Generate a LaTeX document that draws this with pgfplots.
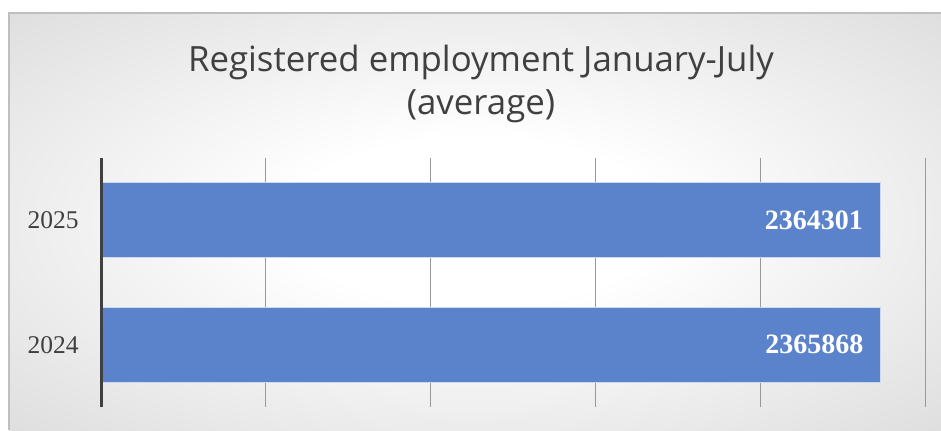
\documentclass[border=0pt]{standalone}
\usepackage{pgfplots}
\pgfplotsset{compat=1.18}
\usepackage{fontspec}
\setmainfont{Liberation Serif}
\newfontfamily\titlefont{Open Sans}
\definecolor{barblue}{RGB}{91,131,203}
\definecolor{txtgray}{RGB}{64,64,64}
\pgfdeclareradialshading{bgshade}{\pgfpoint{0bp}{0bp}}{color(0bp)=(white); color(10bp)=(white); color(48bp)=(black!19); color(71bp)=(black!23); color(100bp)=(black!23)}
\begin{document}
\begin{tikzpicture}[x=0.5pt,y=0.5pt]
\useasboundingbox (0,0) rectangle (941,430);
\shade[shading=bgshade] (9,0) rectangle (941,417);
\draw[black!25, line width=0.6pt] (9,0) -- (9,417) -- (941,417);
\node[align=center, text=txtgray, font=\titlefont\fontsize{17.4}{21.5}\selectfont] at (481,346) {Registered employment January-July\\(average)};
\begin{axis}[
  at={(50.5pt,11.5pt)}, anchor=south west,
  scale only axis, width=412pt, height=124.5pt,
  clip=false,
  xbar, bar width=37.5pt,
  xmin=0, xmax=2500000, ymin=-0.5, ymax=1.5,
  xtick={0,500000,1000000,1500000,2000000,2500000},
  scaled x ticks=false,
  xticklabels={},
  xmajorgrids, grid style={black!40, line width=0.5pt},
  ytick={0,1}, yticklabels={2024,2025},
  major tick length=0pt,
  axis lines*=left,
  x axis line style={draw=none},
  y axis line style={draw=none},
  /pgf/number format/assume math mode=true,
  yticklabel style={font=\fontsize{12.75}{14}\selectfont, text=txtgray, inner sep=0pt, xshift=-11pt},
  point meta=explicit symbolic,
  nodes near coords,
  every node near coord/.append style={anchor=east, inner sep=0pt, xshift=-8.5pt, text=white, font=\bfseries\fontsize{14}{15}\selectfont},
]
\addplot[fill=barblue, draw={rgb,255:red,205;green,218;blue,238}, line width=0.5pt]
  coordinates {(2365868,0) [2365868] (2364301,1) [2364301]};
\draw[txtgray, line width=1.5pt] (rel axis cs:0,0) -- (rel axis cs:0,1);
\end{axis}
\end{tikzpicture}
\end{document}
